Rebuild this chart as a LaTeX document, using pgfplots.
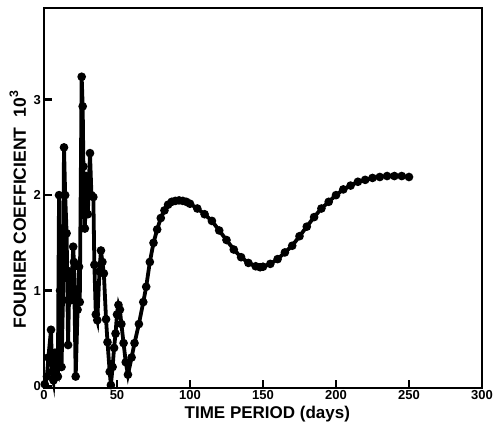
\documentclass[border=0pt]{standalone}
\usepackage{fontspec}
\setmainfont{Liberation Sans}
\usepackage{pgfplots}
\pgfplotsset{compat=1.18}
\begin{document}
\begin{tikzpicture}
\begin{axis}[
    name=ax,
    scale only axis,
    width=219pt,
    height=190pt,
    xmin=0, xmax=300,
    ymin=-0.02, ymax=3.96,
    xtick={0,50,100,150,200,250,300},
    ytick={0,1,2,3},
    tick align=inside,
    xtick pos=left,
    ytick pos=left,
    major tick length=4pt,
    axis line style={line width=1.4pt},
    tick style={line width=1.2pt, black},
    /pgf/number format/assume math mode=true,
    ticklabel style={font=\fontsize{6.5}{7}\selectfont\bfseries},
    yticklabel style={xshift=2pt},
    xticklabel style={yshift=2.5pt},
    xlabel={TIME PERIOD (days)},
    ylabel={FOURIER COEFFICIENT\ \ 10\textsuperscript{3}},
    xlabel style={font=\fontsize{8.5}{10}\selectfont\bfseries, at={(axis description cs:0.51,-0.07)}, anchor=center},
    ylabel style={font=\fontsize{8.8}{10}\selectfont\bfseries, at={(axis description cs:-0.06,0.47)}, anchor=center},
    clip=false
]
\addplot[black, line width=1.9pt, mark=*, mark size=1.15pt] coordinates {
(0.5,0.02) (2,0.10) (3,0.30) (4.8,0.59) (5.5,0.15) (6.5,0.06) (7.5,0.35)
(8.5,0.12) (9.5,0.10) (10.3,2.00) (11,1.00) (12,0.20) (13,0.90) (13.7,2.50)
(14.5,2.00) (15.5,1.60) (16.5,0.43) (17.5,1.20) (18.5,0.90) (20,1.46)
(20.5,1.30) (21.7,0.10) (23,0.80) (24,1.25) (24.5,0.88) (25.8,3.24)
(26.5,2.93) (27,2.30) (28,1.65) (29,2.20) (30,1.80) (31.5,2.44) (32.5,2.00)
(33.8,1.98) (34.5,1.27) (35.5,0.75) (36.5,0.69) (38,1.20) (39,1.42)
(40,1.30) (41,1.18) (42.5,0.70) (43.5,0.46) (45,0.15) (45.8,0.01) (47,0.20)
(48,0.40) (49,0.55) (50,0.75) (51,0.85) (52,0.80) (53,0.65) (54.5,0.45)
(56,0.25) (57.5,0.12) (60,0.30) (62,0.45) (65,0.65) (68,0.88) (70,1.04)
(72.5,1.30) (75,1.50) (77.5,1.64) (80,1.76) (82.5,1.84) (85,1.90)
(87.5,1.93) (90,1.94) (92.5,1.945) (95,1.94) (97.5,1.93) (100,1.91)
(105,1.86) (110,1.80) (115,1.73) (120,1.63) (125,1.53) (130,1.43)
(135,1.35) (140,1.29) (145,1.255) (148,1.245) (150,1.25) (155,1.28)
(160,1.33) (165,1.40) (170,1.47) (175,1.57) (180,1.67) (185,1.77)
(190,1.86) (195,1.93) (200,2.00) (205,2.06) (210,2.10) (215,2.14)
(220,2.16) (225,2.18) (230,2.19) (235,2.20) (240,2.20) (245,2.20) (250,2.19)
};
\end{axis}
\pgfresetboundingbox
\path (ax.south west) ++(-22pt,-23.5pt) rectangle ([shift={(6pt,4pt)}]ax.north east);
\end{tikzpicture}
\end{document}
